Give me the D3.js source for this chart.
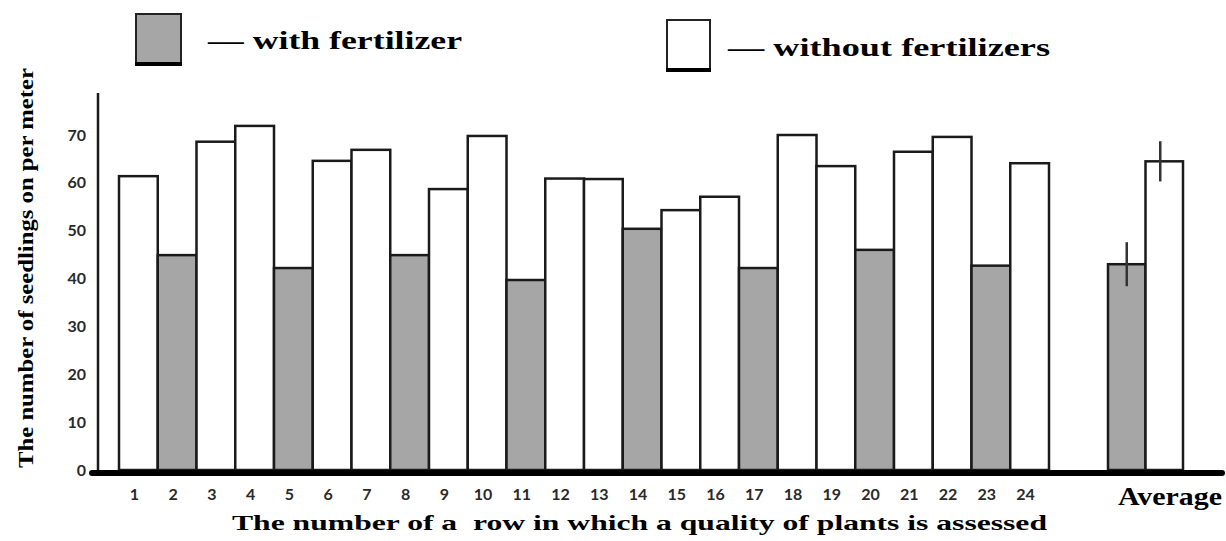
<!DOCTYPE html>
<html>
<head>
<meta charset="utf-8">
<script src="https://cdn.jsdelivr.net/npm/d3@7"></script>
<style>
  html, body { margin: 0; padding: 0; background: #fff; }
  svg { display: block; }
</style>
</head>
<body>
<svg id="chart" width="1226" height="541"></svg>
<script>
// ---- data ----
const rows = ["1","2","3","4","5","6","7","8","9","10","11","12","13","14","15","16","17","18","19","20","21","22","23","24"];
const seedlings = [61.4,44.9,68.6,71.9,42.2,64.6,66.9,44.9,58.7,69.8,39.7,60.9,60.8,50.4,54.3,57.1,42.2,70.0,63.5,46.0,66.5,69.6,42.7,64.1];
const fertilized = [false,true,false,false,true,false,false,true,false,false,true,false,false,true,false,false,true,false,false,true,false,false,true,false];
const avgGroups = ["with fertilizer","without fertilizers"];
const avgValues = [43.0, 64.5];
const avgErrors = [4.6, 4.2];
const yTicks = [0,10,20,30,40,50,60,70];
const legendLabels = ["— with fertilizer", "— without fertilizers"];

// ---- setup ----
const svg = d3.select("#chart");
const GRAY = "#a6a6a6";
const SERIF = "'Liberation Serif', 'Times New Roman', serif";
const y = d3.scaleLinear().domain([0, 70]).range([470, 135]);
const x = d3.scaleBand().domain(rows).range([119, 1049]).padding(0);
const xa = d3.scaleBand().domain(avgGroups).range([1108, 1183]).padding(0);

// bars
svg.append("g").selectAll("rect").data(rows).join("rect")
  .attr("x", d => x(d))
  .attr("y", (d, i) => y(seedlings[i]))
  .attr("width", x.bandwidth())
  .attr("height", (d, i) => y(0) - y(seedlings[i]))
  .attr("fill", (d, i) => fertilized[i] ? GRAY : "#fff")
  .attr("stroke", "#1a1a1a")
  .attr("stroke-width", 2.5);

// average bars
svg.append("g").selectAll("rect").data(avgGroups).join("rect")
  .attr("x", d => xa(d))
  .attr("y", (d, i) => y(avgValues[i]))
  .attr("width", xa.bandwidth())
  .attr("height", (d, i) => y(0) - y(avgValues[i]))
  .attr("fill", (d, i) => i === 0 ? GRAY : "#fff")
  .attr("stroke", "#1a1a1a")
  .attr("stroke-width", 2.5);

// error bars
svg.append("g").selectAll("line").data(avgGroups).join("line")
  .attr("x1", (d, i) => xa(d) + xa.bandwidth() / 2 - (i === 1 ? 4 : 0))
  .attr("x2", (d, i) => xa(d) + xa.bandwidth() / 2 - (i === 1 ? 4 : 0))
  .attr("y1", (d, i) => y(avgValues[i] + avgErrors[i]))
  .attr("y2", (d, i) => y(avgValues[i] - avgErrors[i]))
  .attr("stroke", "#333")
  .attr("stroke-width", 2.5);

// y axis line
svg.append("line")
  .attr("x1", 98).attr("x2", 98)
  .attr("y1", y(78.8)).attr("y2", y(0) + 2)
  .attr("stroke", "#1a1a1a").attr("stroke-width", 2.5);

// y ticks labels
const yAxis = svg.append("g").attr("transform", "translate(86,0)")
  .call(d3.axisLeft(y).tickValues(yTicks).tickSize(0).tickPadding(0).tickFormat(d3.format("d")));
yAxis.select(".domain").remove();
yAxis.selectAll("text")
  .attr("font-family", "Lato, 'Open Sans', sans-serif")
  .attr("font-weight", "bold")
  .attr("font-size", 16)
  .attr("fill", "#2a2a2a");

// x axis thick baseline
svg.append("line")
  .attr("x1", 92).attr("x2", 1222)
  .attr("y1", y(0) + 3).attr("y2", y(0) + 3)
  .attr("stroke", "#000").attr("stroke-width", 6)
  .attr("stroke-linecap", "round");

// x tick labels
const xAxis = svg.append("g").attr("transform", `translate(-4,${y(0) + 16})`)
  .call(d3.axisBottom(x).tickSize(0).tickPadding(0));
xAxis.select(".domain").remove();
xAxis.selectAll("text")
  .attr("dy", "0.9em")
  .attr("font-family", "Lato, 'Open Sans', sans-serif")
  .attr("font-weight", "bold")
  .attr("font-size", 16)
  .attr("fill", "#2a2a2a");

// Average label
svg.append("text")
  .attr("x", 1118).attr("y", 505)
  .attr("font-family", SERIF)
  .attr("font-weight", "bold")
  .attr("font-size", 26)
  .attr("fill", "#000")
  .attr("textLength", 104)
  .attr("lengthAdjust", "spacingAndGlyphs")
  .text("Average");

// axis titles
svg.append("text")
  .attr("x", 232).attr("y", 530)
  .attr("font-family", SERIF)
  .attr("font-weight", "bold")
  .attr("font-size", 21)
  .attr("fill", "#000")
  .attr("textLength", 815)
  .attr("lengthAdjust", "spacingAndGlyphs")
  .style("white-space", "pre")
  .text("The number of a  row in which a quality of plants is assessed");

svg.append("text")
  .attr("transform", "translate(33,468) rotate(-90)")
  .attr("font-family", SERIF)
  .attr("font-weight", "bold")
  .attr("font-size", 21)
  .attr("fill", "#000")
  .attr("textLength", 400)
  .attr("lengthAdjust", "spacingAndGlyphs")
  .text("The number of seedlings on per meter");

// legend
const legendBoxes = [
  {x: 136, y: 14, w: 45, h: 50, fill: GRAY},
  {x: 667, y: 20, w: 43, h: 50, fill: "#fff"}
];
const lg = svg.append("g");
lg.selectAll("rect.box").data(legendBoxes).join("rect")
  .attr("class", "box")
  .attr("x", d => d.x).attr("y", d => d.y)
  .attr("width", d => d.w).attr("height", d => d.h)
  .attr("fill", d => d.fill)
  .attr("stroke", "#222").attr("stroke-width", 2);
lg.selectAll("line.bottom").data(legendBoxes).join("line")
  .attr("class", "bottom")
  .attr("x1", d => d.x - 1).attr("x2", d => d.x + d.w + 1)
  .attr("y1", d => d.y + d.h).attr("y2", d => d.y + d.h)
  .attr("stroke", "#000").attr("stroke-width", 4);
lg.selectAll("text").data(legendLabels).join("text")
  .attr("x", (d, i) => i === 0 ? 208 : 728)
  .attr("y", (d, i) => i === 0 ? 49 : 56)
  .attr("font-family", SERIF)
  .attr("font-weight", "bold")
  .attr("font-size", 25)
  .attr("fill", "#000")
  .attr("textLength", (d, i) => i === 0 ? 254 : 322)
  .attr("lengthAdjust", "spacingAndGlyphs")
  .text(d => d);
</script>
</body>
</html>
